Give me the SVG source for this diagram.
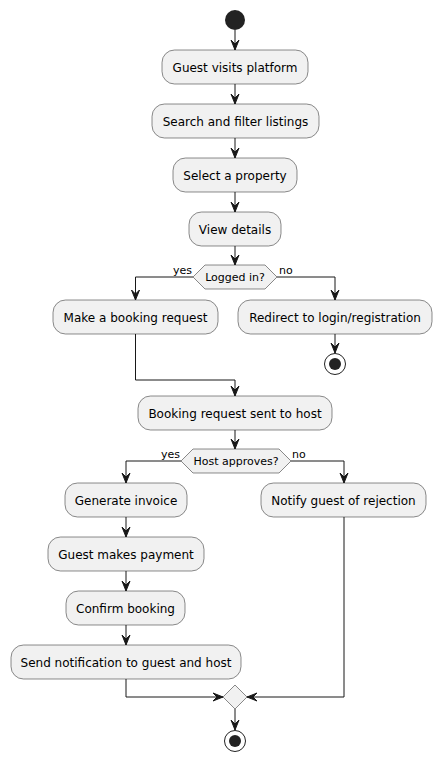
<svg xmlns="http://www.w3.org/2000/svg" width="441" height="761" viewBox="0 0 441 761">
<style>
.box{fill:#F1F1F1;stroke:#181818;stroke-width:0.5}
.t{font-family:"DejaVu Sans",sans-serif;font-size:12px;fill:#000;text-anchor:middle}
.d{font-family:"DejaVu Sans",sans-serif;font-size:11px;fill:#000;text-anchor:middle}
.l{font-family:"DejaVu Sans",sans-serif;font-size:11px;fill:#000}
.c{fill:none;stroke:#181818;stroke-width:1;marker-end:url(#ah)}
.cn{fill:none;stroke:#181818;stroke-width:1}
</style>
<defs>
<marker id="ah" markerUnits="userSpaceOnUse" viewBox="0 0 11 10" refX="10" refY="5" markerWidth="11" markerHeight="10" orient="auto">
<path d="M0,1 L10,5 L0,9 L4,5 Z" fill="#181818" stroke="#181818" stroke-width="1"/>
</marker>
</defs>
<g id="connectors">
<path class="c" d="M235,30 L235,50"/>
<path class="c" d="M235,84 L235,104"/>
<path class="c" d="M235,138 L235,158"/>
<path class="c" d="M235,192 L235,212"/>
<path class="c" d="M235,246 L235,265"/>
<path class="c" d="M193,277 L135.5,277 L135.5,300"/>
<path class="c" d="M277,277 L335,277 L335,300"/>
<path class="c" d="M335,334 L335,353"/>
<path class="c" d="M135.5,334 L135.5,380 L235,380 L235,396"/>
<path class="c" d="M235,430 L235,449"/>
<path class="c" d="M181,461 L126,461 L126,483"/>
<path class="c" d="M291,461 L344,461 L344,483"/>
<path class="c" d="M126,517 L126,537"/>
<path class="c" d="M126,571 L126,591"/>
<path class="c" d="M126,625 L126,645"/>
<path class="c" d="M126,679 L126,697 L223,697"/>
<path class="c" d="M344,517 L344,697 L247,697"/>
<path class="c" d="M235,709 L235,730"/>
<text class="l" x="192" y="274" text-anchor="end">yes</text>
<text class="l" x="279" y="274">no</text>
<text class="l" x="180" y="458" text-anchor="end">yes</text>
<text class="l" x="292" y="458">no</text>
</g>
<g id="start"><circle cx="235" cy="20" r="10" fill="#222222"/></g>
<g id="n1"><rect class="box" x="162" y="50" width="146" height="34" rx="12.5"/><text class="t" x="235" y="71.5">Guest visits platform</text></g>
<g id="n2"><rect class="box" x="152" y="104" width="167" height="34" rx="12.5"/><text class="t" x="235.5" y="125.5">Search and filter listings</text></g>
<g id="n3"><rect class="box" x="173" y="158" width="124" height="34" rx="12.5"/><text class="t" x="235" y="179.5">Select a property</text></g>
<g id="n4"><rect class="box" x="189" y="212" width="92" height="34" rx="12.5"/><text class="t" x="235" y="233.5">View details</text></g>
<g id="d1"><polygon class="box" points="193,277 205,265 265,265 277,277 265,289 205,289"/><text class="d" x="235" y="281">Logged in?</text></g>
<g id="n5"><rect class="box" x="53" y="300" width="165" height="34" rx="12.5"/><text class="t" x="135.5" y="321.5">Make a booking request</text></g>
<g id="n6"><rect class="box" x="238" y="300" width="194" height="34" rx="12.5"/><text class="t" x="335" y="321.5">Redirect to login/registration</text></g>
<g id="stop1"><circle cx="335" cy="364" r="10.5" fill="none" stroke="#222222" stroke-width="1"/><circle cx="335" cy="364" r="6" fill="#222222"/></g>
<g id="n7"><rect class="box" x="138" y="396" width="194" height="34" rx="12.5"/><text class="t" x="235" y="417.5">Booking request sent to host</text></g>
<g id="d2"><polygon class="box" points="181,461 193,449 279,449 291,461 279,473 193,473"/><text class="d" x="236" y="465">Host approves?</text></g>
<g id="n8"><rect class="box" x="65" y="483" width="122" height="34" rx="12.5"/><text class="t" x="126" y="504.5">Generate invoice</text></g>
<g id="n9"><rect class="box" x="261" y="483" width="165" height="34" rx="12.5"/><text class="t" x="343.5" y="504.5">Notify guest of rejection</text></g>
<g id="n10"><rect class="box" x="48" y="537" width="156" height="34" rx="12.5"/><text class="t" x="126" y="558.5">Guest makes payment</text></g>
<g id="n11"><rect class="box" x="66" y="591" width="119" height="34" rx="12.5"/><text class="t" x="125.5" y="612.5">Confirm booking</text></g>
<g id="n12"><rect class="box" x="11" y="645" width="230" height="34" rx="12.5"/><text class="t" x="126" y="666.5">Send notification to guest and host</text></g>
<g id="merge"><polygon class="box" points="223,697 235,685 247,697 235,709"/></g>
<g id="stop2"><circle cx="235" cy="741" r="10.5" fill="none" stroke="#222222" stroke-width="1"/><circle cx="235" cy="741" r="6" fill="#222222"/></g>
</svg>
